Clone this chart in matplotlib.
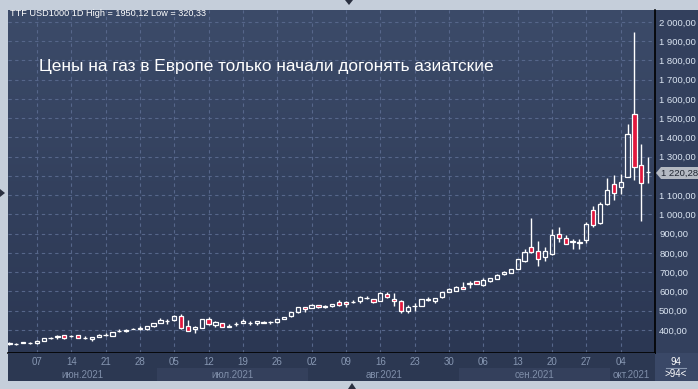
import numpy as np
import pandas as pd
import matplotlib
matplotlib.use("Agg")
import matplotlib.pyplot as plt
from matplotlib.patches import Rectangle, Polygon
from matplotlib.colors import LinearSegmentedColormap

plt.rcParams['font.family'] = ['Liberation Sans', 'DejaVu Sans']

# ---------------- data ----------------
dates = pd.bdate_range('2021-06-01', '2021-10-08')

opens = [327, 328, 331, 332, 330, 345, 357, 362, 373, 368, 374, 361, 352, 364, 374, 371, 394, 396, 405, 407,
         403, 420, 436, 447, 450, 473, 419, 404, 412, 456, 426, 435, 418, 430, 436, 436, 437, 438, 442, 439,
         457, 472, 495, 518, 514, 528, 522, 524, 545, 545, 544, 551, 564, 559, 553, 587, 562, 552, 500, 524,
         527, 558, 553, 570, 597, 602, 625, 640, 653, 633, 652, 667, 690, 698, 718, 757, 830, 810, 778, 794,
         897, 879, 858, 854, 865, 1022, 958, 1053, 1158, 1141, 1197, 1520, 1257, 1219]
highs = [336, 330, 337, 340, 349, 359, 364, 374, 375, 373, 376, 367, 364, 377, 382, 391, 403, 405, 409, 421,
         422, 436, 460, 456, 478, 483, 452, 419, 458, 465, 447, 438, 430, 440, 455, 445, 448, 449, 445, 459,
         467, 496, 520, 520, 535, 530, 530, 536, 555, 548, 554, 575, 577, 561, 597, 595, 590, 555, 528, 540,
         563, 570, 566, 599, 618, 628, 650, 654, 656, 672, 672, 690, 706, 718, 770, 820, 982, 862, 830, 923,
         935, 892, 873, 874, 961, 1045, 1063, 1188, 1205, 1210, 1470, 1950.12, 1366, 1300]
lows = [324, 320.33, 330, 327, 329, 343, 352, 355, 352, 362, 356, 352, 345, 362, 368, 369, 389, 390, 403, 402,
        401, 418, 434, 432, 448, 406, 394, 383, 410, 428, 418, 414, 416, 422, 434, 426, 428, 436, 429, 437,
        455, 470, 487, 494, 512, 516, 514, 521, 525, 521, 542, 542, 562, 542, 551, 568, 523, 488, 490, 497,
        525, 548, 542, 568, 595, 600, 613, 620, 639, 631, 650, 665, 686, 694, 716, 754, 800, 734, 760, 790,
        859, 845, 822, 822, 854, 935, 950, 1050, 1075, 1104, 1193, 1180, 968, 1162]
closes = [333, 327, 336, 333, 344, 357, 358, 368, 357, 369, 358, 359, 362, 375, 376, 390, 396, 397, 407, 412,
          420, 434, 452, 448, 474, 409, 396, 417, 456, 430, 441, 416, 420, 432, 448, 437, 446, 439, 444, 457,
          466, 494, 518, 507, 528, 518, 524, 533, 531, 533, 546, 573, 566, 547, 594, 573, 550, 500, 521, 526,
          561, 560, 564, 597, 613, 625, 615, 642, 641, 660, 670, 687, 703, 715, 767, 806, 807, 767, 810, 892,
          879, 847, 860, 856, 950, 946, 1053, 1126, 1110, 1167, 1417, 1248, 1162, 1220.28]

y_ticks = list(range(400, 2001, 100))
hidden_tick = 1200  # covered by the last-price marker
tick_days = ['07', '14', '21', '28', '05', '12', '19', '26', '02', '09', '16', '23', '30',
             '06', '13', '20', '27', '04']
month_labels = ['июн.2021', 'июл.2021', 'авг.2021', 'сен.2021', 'окт.2021']
title = 'Цены на газ в Европе только начали догонять азиатские'
header = 'TTF USD1000 1D High = 1950,12 Low = 320,33'
last_label = '1 220,28'
bar_count = '94'

# ---------------- figure ----------------
W, H = 698, 389
fig = plt.figure(figsize=(W / 100, H / 100), dpi=100)
fig.patch.set_facecolor('#c5ceda')

def fx(px):
    return px / W

def fy(py):
    return 1 - py / H

x = np.arange(len(dates))
o = np.array(opens, float); h = np.array(highs, float)
l = np.array(lows, float); c = np.array(closes, float)

XL = (-0.2, 94.0)
YL = (280.5, 2062)

# main axes (pixels 8..655 x 10..353)
ax = fig.add_axes([fx(8), fy(353), fx(655 - 8), (353 - 10) / H])
ax.set_xlim(*XL)
ax.set_ylim(*YL)

grad = np.linspace(0, 1, 256).reshape(-1, 1)
cmap = LinearSegmentedColormap.from_list('bg', ['#2b3753', '#3c4b69'])
ax.imshow(grad, extent=[XL[0], XL[1], YL[0], YL[1]], origin='lower', aspect='auto', cmap=cmap, zorder=0)

# grid
for yt in y_ticks:
    ax.axhline(yt, color='#56668a', lw=0.8, ls=(0, (3, 3)), zorder=1)
mondays = [i for i, d in enumerate(dates) if d.weekday() == 0 and i > 0]
for i in mondays:
    ax.axvline(i, color='#56668a', lw=0.8, ls=(0, (3, 3)), zorder=1)

# candles
bw = 0.62
top = np.maximum(o, c); bot = np.minimum(o, c)
ax.vlines(x, top, h, color='white', lw=1.0, zorder=3)
ax.vlines(x, l, bot, color='white', lw=1.0, zorder=3)
hgt = np.maximum(top - bot, 2.0)
cols = ['#e2173d' if cc < oo else 'none' for oo, cc in zip(o, c)]
ax.bar(x, hgt, bottom=bot, width=bw, color=cols, edgecolor='white', linewidth=0.9, zorder=4)

# axes styling
ax.yaxis.tick_right()
ax.set_yticks(y_ticks)
ax.set_yticklabels(['' if v == hidden_tick else f'{v:,.2f}'.replace(',', ' ').replace('.', ',')
                    for v in y_ticks], color='#dbe5f2', fontsize=6.8)
ax.tick_params(axis='y', length=0, pad=3)
ax.set_xticks([])
for s in ['top', 'left']:
    ax.spines[s].set_visible(False)
ax.spines['right'].set_color('black'); ax.spines['right'].set_linewidth(1.2)
ax.spines['bottom'].set_color('black'); ax.spines['bottom'].set_linewidth(1.2)

# right panel background
fig.patches.append(Rectangle((fx(655), fy(353)), fx(43), (353 - 10) / H, transform=fig.transFigure,
                             facecolor='#33405d', edgecolor='none', zorder=-1))

# date panel
axd = fig.add_axes([fx(8), fy(381), fx(647), 28 / H])
axd.set_xlim(*XL); axd.set_ylim(0, 1)
axd.set_facecolor('#2c3852')
axd.set_xticks([]); axd.set_yticks([])
for s in axd.spines.values():
    s.set_visible(False)
month_idx = [d.month for d in dates]
bounds = [0]
for i in range(1, len(dates)):
    if month_idx[i] != month_idx[i - 1]:
        bounds.append(i)
bounds.append(len(dates))
for k in range(len(bounds) - 1):
    x0 = max(bounds[k] - 0.5, XL[0]); x1 = min(bounds[k + 1] - 0.5, XL[1])
    if k % 2 == 1:
        axd.add_patch(Rectangle((x0, 0), x1 - x0, 0.45, facecolor='#34405c', edgecolor='none'))
    axd.text((x0 + x1) / 2, 0.22, month_labels[k], color='#7f8ea9', fontsize=7, ha='center', va='center')
for i, lab in zip(mondays, tick_days):
    axd.text(i, 0.68, lab, color='#8797b2', fontsize=7, ha='center', va='center')

# bottom-right box
fig.patches.append(Rectangle((fx(655), fy(381)), fx(43), 28 / H, transform=fig.transFigure,
                             facecolor='#3a4867', edgecolor='none', zorder=-1))
fig.text(fx(676), fy(362), bar_count, color='white', fontsize=7, ha='center', va='center')
fig.lines.append(plt.Line2D([fx(666), fx(686)], [fy(368), fy(368)], transform=fig.transFigure,
                            color='#8a98b0', lw=0.8))
fig.text(fx(676), fy(374), '>' + bar_count + '<', color='white', fontsize=7, ha='center', va='center')

# last price label
fig.patches.append(Polygon([(fx(656), fy(173)), (fx(661), fy(167)), (fx(698), fy(167)),
                            (fx(698), fy(179)), (fx(661), fy(179))], closed=True,
                           transform=fig.transFigure, facecolor='#b4b9c2', edgecolor='none', zorder=5))
fig.text(fx(661), fy(173), last_label, color='#1e2430', fontsize=6.8, ha='left', va='center', zorder=6)

# texts
fig.text(fx(10), fy(14), header, color='white', fontsize=6.6, ha='left', va='center')
fig.text(fx(39), fy(67), title, color='white', fontsize=12.4, ha='left', va='center')

# small navigation triangles
tri_c = '#2a3040'
fig.patches.append(Polygon([(fx(345), fy(0)), (fx(353), fy(0)), (fx(349), fy(5))], closed=True,
                           transform=fig.transFigure, facecolor=tri_c, edgecolor='none'))
fig.patches.append(Polygon([(fx(348), fy(389)), (fx(356), fy(389)), (fx(352), fy(383))], closed=True,
                           transform=fig.transFigure, facecolor=tri_c, edgecolor='none'))
fig.patches.append(Polygon([(fx(0), fy(189)), (fx(0), fy(197)), (fx(5), fy(193))], closed=True,
                           transform=fig.transFigure, facecolor=tri_c, edgecolor='none'))

fig.savefig('out.png', dpi=100, facecolor=fig.get_facecolor())
